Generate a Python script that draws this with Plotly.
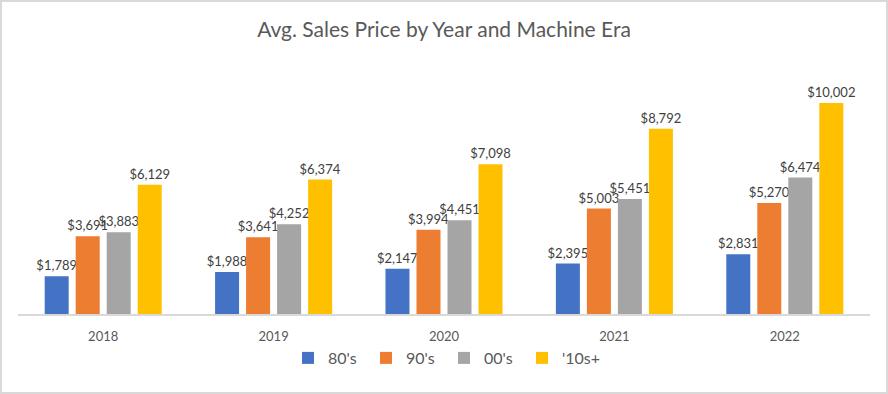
import plotly.graph_objects as go

years = ["2018", "2019", "2020", "2021", "2022"]
series_names = ["80's", "90's", "00's", "'10s+"]
v80 = [1789, 1988, 2147, 2395, 2831]
v90 = [3691, 3641, 3994, 5003, 5270]
v00 = [3883, 4252, 4451, 5451, 6474]
v10 = [6129, 6374, 7098, 8792, 10002]
colors = ["#4472C4", "#ED7D31", "#A5A5A5", "#FFC000"]

FONT = "Lato"
fig = go.Figure()
for name, vals, col in zip(series_names, [v80, v90, v00, v10], colors):
    fig.add_trace(go.Bar(
        x=years, y=vals, name=name, marker=dict(color=col, line=dict(width=0)),
        texttemplate="$%{y:,.0f}", textposition="outside", constraintext="none",
        cliponaxis=False, textfont=dict(family=FONT, size=13, color="#404040"),
    ))

W, H = 888, 394
ml, mr, mt, mb = 18, 18, 61, 80
pw, ph = W - ml - mr, H - mt - mb
fig.update_layout(
    width=W, height=H,
    margin=dict(l=ml, r=mr, t=mt, b=mb, autoexpand=False),
    paper_bgcolor="white", plot_bgcolor="white",
    barmode="group", bargap=0.272, bargroupgap=0.226,
    title=dict(text="Avg. Sales Price by Year and Machine Era", x=0.5, xanchor="center",
               y=1 - 30 / H, yanchor="middle",
               font=dict(family=FONT, size=21, color="#595959")),
    xaxis=dict(showline=True, linecolor="#D9D9D9", linewidth=1.5, ticks="",
               ticklabelstandoff=10,
               tickfont=dict(family=FONT, size=13, color="#595959"), showgrid=False,
               automargin=False),
    yaxis=dict(range=[0, 12000], visible=False, showgrid=False, automargin=False),
    legend=dict(orientation="h", x=0.5, xanchor="center", y=-(358 - 314) / ph, yanchor="middle",
                font=dict(family=FONT, size=16, color="#595959"), itemwidth=30,
                entrywidth=33, traceorder="normal"),
    showlegend=True,
)
fig.add_shape(type="rect", xref="paper", yref="paper",
              x0=-(ml - 1) / pw, x1=1 + (mr - 1) / pw, y0=-(mb - 1) / ph, y1=1 + (mt - 1) / ph,
              line=dict(color="#D9D9D9", width=2), fillcolor="rgba(0,0,0,0)", layer="below")
fig.write_html("out.html", config={"displayModeBar": False},
               post_script="document.body.style.margin='0';document.body.style.overflow='hidden';")
